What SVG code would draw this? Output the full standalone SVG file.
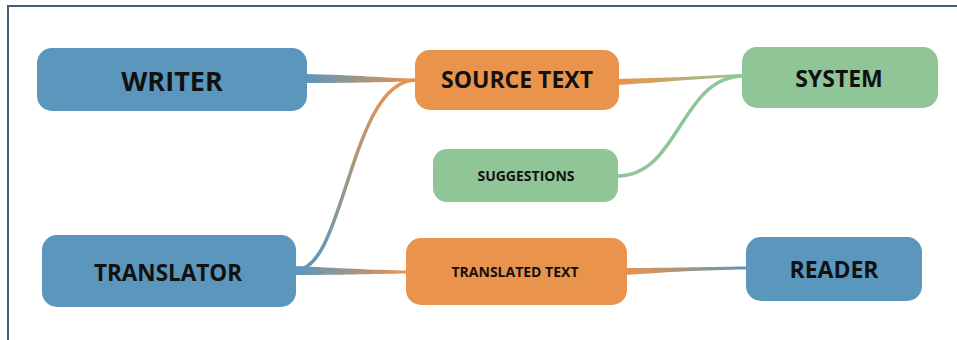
<svg xmlns="http://www.w3.org/2000/svg" width="957" height="340" viewBox="0 0 957 340">
<defs>
<style>
.blue{fill:#5b97bd}
.orange{fill:#ea934c}
.green{fill:#8fc597}
.t{font-family:"Open Sans","Liberation Sans",sans-serif;font-weight:bold;fill:#111;text-anchor:middle}
.mid{font-size:23px}
.small{font-size:14px}
</style>
<linearGradient id="gWS" gradientUnits="userSpaceOnUse" x1="307" y1="0" x2="415" y2="0"><stop offset="0" stop-color="#5b97bd"/><stop offset="1" stop-color="#ea934c"/></linearGradient>
<linearGradient id="gTS" gradientUnits="userSpaceOnUse" x1="0" y1="270" x2="0" y2="80"><stop offset="0" stop-color="#5b97bd"/><stop offset="1" stop-color="#ea934c"/></linearGradient>
<linearGradient id="gTT" gradientUnits="userSpaceOnUse" x1="296" y1="0" x2="406" y2="0"><stop offset="0" stop-color="#5b97bd"/><stop offset="1" stop-color="#ea934c"/></linearGradient>
<linearGradient id="gSS" gradientUnits="userSpaceOnUse" x1="619" y1="0" x2="742" y2="0"><stop offset="0" stop-color="#ea934c"/><stop offset="1" stop-color="#8fc597"/></linearGradient>
<linearGradient id="gTR" gradientUnits="userSpaceOnUse" x1="627" y1="0" x2="746" y2="0"><stop offset="0" stop-color="#ea934c"/><stop offset="1" stop-color="#5b97bd"/></linearGradient>
</defs>
<rect x="8" y="6" width="960" height="350" fill="#fff" stroke="#4b5d7e" stroke-width="2"/>
<g id="connectors">
<path d="M304,74 C360,75 380,78 416,78.5 L416,81.5 C380,82 360,83 304,83 Z" fill="url(#gWS)"/>
<path d="M296,270 C345,270 350,80 416,80" fill="none" stroke="url(#gTS)" stroke-width="3.5"/>
<path d="M293,266 C340,268 370,270 408,270.5 L408,273.5 C370,274 340,275 293,275 Z" fill="url(#gTT)"/>
<path d="M616,79 C670,78 700,76 744,74 L744,77 C700,78 670,82 616,85 Z" fill="url(#gSS)"/>
<path d="M617,176 C680,176 680,76 744,76" fill="none" stroke="#8fc597" stroke-width="3.5"/>
<path d="M624,268 C670,268 700,267 748,266.5 L748,269.5 C700,270 670,272 624,275 Z" fill="url(#gTR)"/>
</g>
<g id="writer"><rect class="blue" x="37" y="48" width="270" height="63" rx="15"/><text class="t" x="172" y="91" font-size="27">WRITER</text></g>
<g id="source-text"><rect class="orange" x="415" y="50" width="204" height="60" rx="15"/><text class="t mid" x="517" y="88">SOURCE TEXT</text></g>
<g id="system"><rect class="green" x="742" y="47" width="196" height="61" rx="15"/><text class="t mid" x="839" y="87">SYSTEM</text></g>
<g id="suggestions"><rect class="green" x="433" y="149" width="185" height="53" rx="14"/><text class="t small" x="526" y="181">SUGGESTIONS</text></g>
<g id="translator"><rect class="blue" x="42" y="235" width="254" height="72" rx="15"/><text class="t" x="168" y="281" font-size="22.5">TRANSLATOR</text></g>
<g id="translated-text"><rect class="orange" x="406" y="238" width="221" height="67" rx="15"/><text class="t small" x="515" y="277">TRANSLATED TEXT</text></g>
<g id="reader"><rect class="blue" x="746" y="237" width="176" height="64" rx="15"/><text class="t mid" x="834" y="278">READER</text></g>
</svg>
